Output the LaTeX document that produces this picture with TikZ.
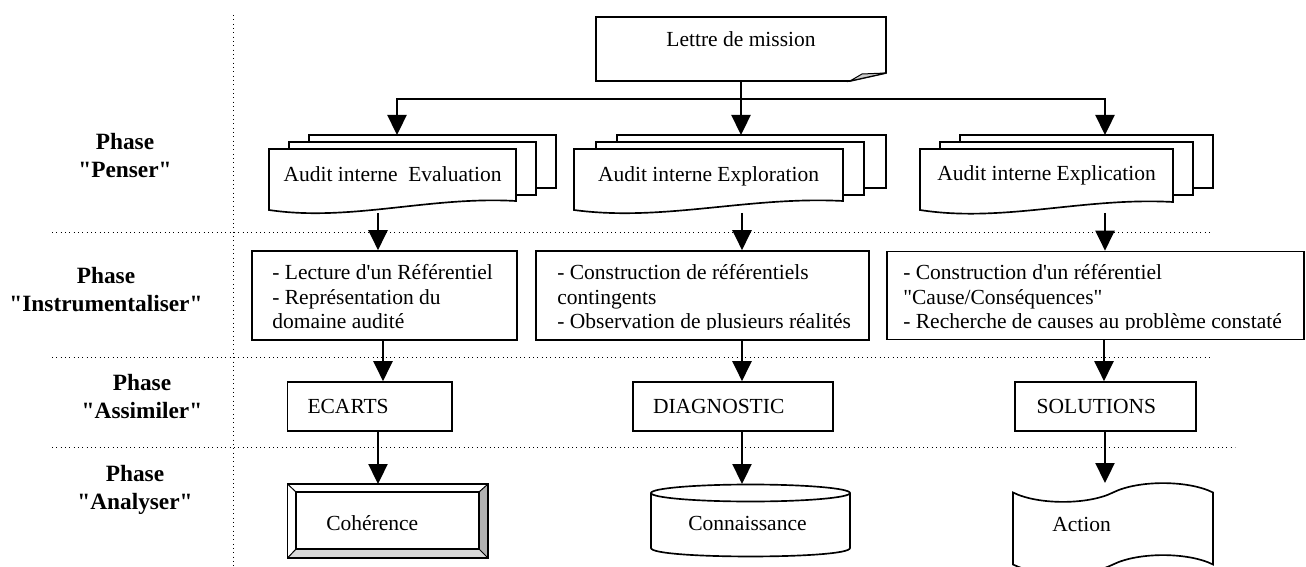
\documentclass[tikz,border=0pt]{standalone}
\usepackage{fontspec}
\setmainfont{Liberation Serif}[Ligatures=TeXOff]
\usetikzlibrary{arrows.meta}

\tikzset{
  arr/.style={-{Triangle[length=12pt,width=11.5pt]}, line width=1pt},
  sepline/.style={dotted, line width=0.6pt},
  box/.style={draw, line width=1pt, inner sep=0pt},
  page/.style={draw, fill=white, line width=1pt},
  txt/.style={font=\fontsize{12.9pt}{14.7pt}\selectfont, inner sep=0pt},
  phase/.style={font=\fontsize{14pt}{16.8pt}\selectfont\bfseries, align=center, inner sep=0pt},
}

\begin{document}
\begin{tikzpicture}[x=0.6pt, y=-0.6pt]
  \useasboundingbox (0,0) rectangle (1306,567);

  % separateurs des phases
  \draw[sepline] (233,15) -- (233,567);
  \draw[sepline] (52,233) -- (1213,233);
  \draw[sepline] (52,357) -- (1213,357);
  \draw[sepline] (52,447) -- (1235,447);

  \node[phase] (penser) at (125,156) {Phase\\"Penser"};
  \node[phase] (instru) at (106,290) {Phase\\"Instrumentaliser"};
  \node[phase] (assim) at (142,396.5) {Phase\\"Assimiler"};
  \node[phase] (analys) at (135,489.5) {Phase\\"Analyser"};

  % lettre de mission
  \draw[box, fill=white] (596,17) -- (886,17) -- (886,73) -- (850,81) -- (596,81) -- cycle;
  \filldraw[fill=gray!40, line width=0.6pt] (850,81) -- (862,74) -- (886,73) -- cycle;
  \node[txt, anchor=base] (lettre) at (741,46.5) {Lettre de mission};
  \coordinate (lettreout) at (741,81);
  \coordinate (split) at (741,99);
  \coordinate (evalin) at (397,135);
  \coordinate (explorin) at (741,135);
  \coordinate (explicin) at (1105,135);

  % phase penser
  \draw[page] (309,135) rectangle (556,188);
  \draw[page] (289,142) rectangle (536,195);
  \draw[page] (269,149) -- (516,149) -- (516,201) .. controls (430,196) and (350,222) .. (269,210) -- cycle;
  \node[txt, anchor=base] (evalu) at (392.5,181.5) {Audit interne\ \ Evaluation};

  \draw[page] (617,135) rectangle (886,188);
  \draw[page] (596,142) rectangle (864,195);
  \draw[page] (574,149) -- (843,149) -- (843,201) .. controls (749,196) and (663,222) .. (574,210) -- cycle;
  \node[txt, anchor=base] (explor) at (708.5,181.5) {Audit interne Exploration};

  \draw[page] (960,135) rectangle (1213,188);
  \draw[page] (940,142) rectangle (1193,195);
  \draw[page] (920,149) -- (1173,149) -- (1173,202) .. controls (1084,197) and (1003,223) .. (920,210) -- cycle;
  \node[txt, anchor=base] (explic) at (1046.5,181) {Audit interne Explication};

  \draw[arr] (lettreout) -- (explorin);
  \draw[arr] (split) -| (evalin);
  \draw[arr] (split) -| (explicin);

  % phase instrumentaliser
  \node[box, minimum width=265*0.6pt, minimum height=89*0.6pt] (lect) at (384.5,295.5) {};
  \node[box, minimum width=333*0.6pt, minimum height=89*0.6pt] (constr) at (702.5,295.5) {};
  \node[box, minimum width=417*0.6pt, minimum height=88*0.6pt] (cause) at (1095.5,295.5) {};
  \begin{scope}
    \clip (240,240) rectangle (1306,329);
    \node[txt, align=left, anchor=west] (lecttxt) at (272,296.7)
      {- Lecture d'un Référentiel\\- Représentation du\\domaine audité};
    \node[txt, align=left, anchor=west] (constrtxt) at (557,299)
      {- Construction de référentiels\\contingents\\- Observation de plusieurs réalités};
    \node[txt, align=left, anchor=west] (causetxt) at (903,299)
      {- Construction d'un référentiel\\"Cause/Conséquences"\\- Recherche de causes au problème constaté};
  \end{scope}

  \coordinate (evalout) at (378,213);
  \coordinate (explorout) at (742,213);
  \coordinate (explicout) at (1105,213);
  \draw[arr] (evalout) -- (evalout |- lect.north);
  \draw[arr] (explorout) -- (explorout |- constr.north);
  \draw[arr] (explicout) -- (explicout |- cause.north);

  % phase assimiler
  \node[box, txt, minimum width=164.5*0.6pt, minimum height=49*0.6pt, inner xsep=12pt,
        text width=124.5*0.6pt, align=left] (ecarts) at (369.75,406.5) {ECARTS};
  \node[box, txt, minimum width=200*0.6pt, minimum height=49*0.6pt, inner xsep=12pt,
        text width=160*0.6pt, align=left] (diag) at (733,406.5) {DIAGNOSTIC};
  \node[box, txt, minimum width=181*0.6pt, minimum height=49*0.6pt, inner xsep=13pt,
        text width=137.7*0.6pt, align=left] (sol) at (1105.5,406.5) {SOLUTIONS};

  \coordinate (lectout) at (383,340);
  \coordinate (constrout) at (742,340);
  \coordinate (causeout) at (1104,339.5);
  \draw[arr] (lectout) -- (lectout |- ecarts.north);
  \draw[arr] (constrout) -- (constrout |- diag.north);
  \draw[arr] (causeout) -- (causeout |- sol.north);

  % phase analyser
  \fill[gray!60] (488,484) -- (488,558) -- (479,549) -- (479,492) -- cycle;
  \fill[gray!30] (287.5,558) -- (488,558) -- (479,549) -- (296,549) -- cycle;
  \draw[line width=1pt] (287.5,484) rectangle (488,558);
  \draw[line width=1pt] (296,492) rectangle (479,549);
  \draw[line width=0.6pt] (287.5,484) -- (296,492) (488,484) -- (479,492)
    (287.5,558) -- (296,549) (488,558) -- (479,549);
  \node[txt, anchor=base west] (coher) at (326,530) {Cohérence};
  \coordinate (coherin) at (378,484);

  \draw[box, fill=white] (651,493) -- (651,548) .. controls (651,559.3) and (850,559.3) .. (850,548) -- (850,493);
  \draw[box] (750.5,493) ellipse [x radius=59.7pt, y radius=5.1pt];
  \node[txt, anchor=base] (conn) at (747.5,530.5) {Connaissance};
  \coordinate (connin) at (742,484);

  \begin{scope}
    \clip (0,0) rectangle (1306,567);
    \draw[box, fill=white] (1013,492.5) .. controls (1038,505) and (1088,505) .. (1113,492.5)
      .. controls (1138,480) and (1188,480) .. (1213,492.5) -- (1213,564.5)
      .. controls (1188,552) and (1138,552) .. (1113,564.5)
      .. controls (1088,577) and (1038,577) .. (1013,564.5) -- cycle;
  \end{scope}
  \node[txt, anchor=base west] (action) at (1052,531) {Action};
  \coordinate (actionin) at (1105,483);

  \draw[arr] (ecarts.south -| coherin) -- (coherin);
  \draw[arr] (diag.south -| connin) -- (connin);
  \draw[arr] (sol.south -| actionin) -- (actionin);
\end{tikzpicture}
\end{document}
